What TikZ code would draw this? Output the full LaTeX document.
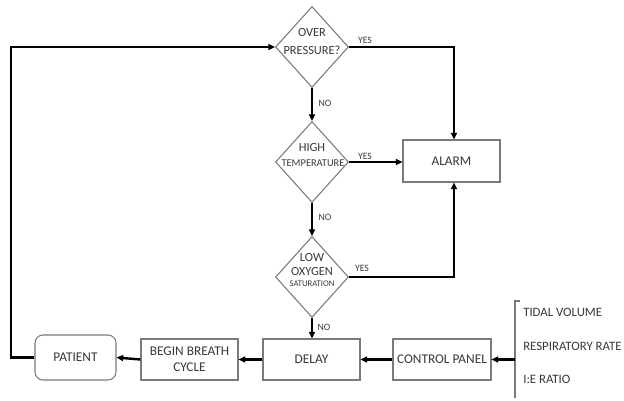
\documentclass[tikz,border=0pt]{standalone}
\usepackage{fontspec}
\setmainfont{Carlito}
\usetikzlibrary{shapes.geometric,arrows.meta}
\definecolor{txt}{HTML}{383838}
\definecolor{brd}{HTML}{7A7A7A}
\begin{document}
\begin{tikzpicture}[x=0.75pt,y=-0.75pt,
  box/.style={draw=brd,line width=0.8pt,fill=white,inner sep=0pt,text=txt,font=\fontsize{10}{12}\selectfont,align=center},
  dia/.style={draw=brd,line width=0.8pt,diamond,aspect=0.9,inner sep=0pt,minimum width=73*0.75pt,minimum height=81*0.75pt},
  dtext/.style={text=txt,inner sep=0pt},
  big/.style={font=\fontsize{9.3}{11}\selectfont},
  lbl/.style={text=txt,font=\fontsize{7.3}{8}\selectfont,inner sep=0pt},
  item/.style={text=txt,font=\fontsize{9.6}{11}\selectfont,anchor=west,inner sep=0pt},
  conn/.style={line width=1.8pt,-{Triangle[length=5pt,width=4.5pt]}}]
\useasboundingbox (0,0) rectangle (624,400);
% diamonds
\node[dia] (d1) at (312,47) {};
\node[dtext,big] (d1a) at (312,33) {OVER};
\node[dtext,big] (d1b) at (312,50) {PRESSURE?};
\node[dia] (d2) at (312,162) {};
\node[dtext,big] (d2a) at (312,148) {HIGH};
\node[dtext,font=\fontsize{7.8}{9}\selectfont] (d2b) at (313,163) {TEMPERATURE};
\node[dia] (d3) at (312,277) {};
\node[dtext,big] (d3a) at (312,258) {LOW};
\node[dtext,big] (d3b) at (312,272) {OXYGEN};
\node[dtext,font=\fontsize{6.5}{7.5}\selectfont] (d3c) at (312,284) {SATURATION};
% boxes
\node[box,minimum width=97*0.75pt,minimum height=42*0.75pt] (alarm) at (451.5,161) {ALARM};
\node[box,minimum width=97*0.75pt,minimum height=41*0.75pt] (delay) at (311.5,359.5) {DELAY};
\node[box,minimum width=98*0.75pt,minimum height=41*0.75pt] (cp) at (442,359.5) {CONTROL PANEL};
\node[box,minimum width=97*0.75pt,minimum height=41*0.75pt] (bbc) at (189.5,359.5) {BEGIN BREATH\\CYCLE};
\node[box,rounded corners=6pt,minimum width=81*0.75pt,minimum height=45*0.75pt] (pat) at (75.5,357.5) {PATIENT};
% bracket list
\coordinate (bt) at (520,301);
\coordinate (bc) at (515,359.5);
\draw[brd,line width=0.8pt] (bt) -- (515,301) -- (515,398);
\node[item] (tv) at (523,312) {TIDAL VOLUME};
\node[item] (rr) at (523,346) {RESPIRATORY RATE};
\node[item] (ie) at (523,379) {I:E RATIO};
% connectors
\draw[conn] (d1.south) -- (d2.north);
\draw[conn] (d2.south) -- (d3.north);
\draw[conn] (d3.south) -- (delay.north -| d3.south);
\draw[conn] (d1.east) -| (alarm.north -| 454,0);
\draw[conn] (d2.east) -- (alarm.west |- d2.east);
\draw[conn] (d3.east) -| (alarm.south -| 454,0);
\draw[conn] (bc) -- (cp.east);
\draw[conn] (cp.west) -- (delay.east);
\draw[conn] (delay.west) -- (bbc.east);
\draw[conn] (bbc.west) -- (pat.east);
\coordinate (lb) at (11,357.5);
\coordinate (lt) at (11,47);
\draw[conn] (pat.west) -- (lb) -- (lt) -- (d1.west);
% labels
\node[lbl] (y1) at (365,40) {YES};
\node[lbl] (n1) at (325,103) {NO};
\node[lbl] (y2) at (365,156) {YES};
\node[lbl] (n2) at (325,217) {NO};
\node[lbl] (y3) at (362,268) {YES};
\node[lbl] (n3) at (324,327) {NO};
\end{tikzpicture}
\end{document}
